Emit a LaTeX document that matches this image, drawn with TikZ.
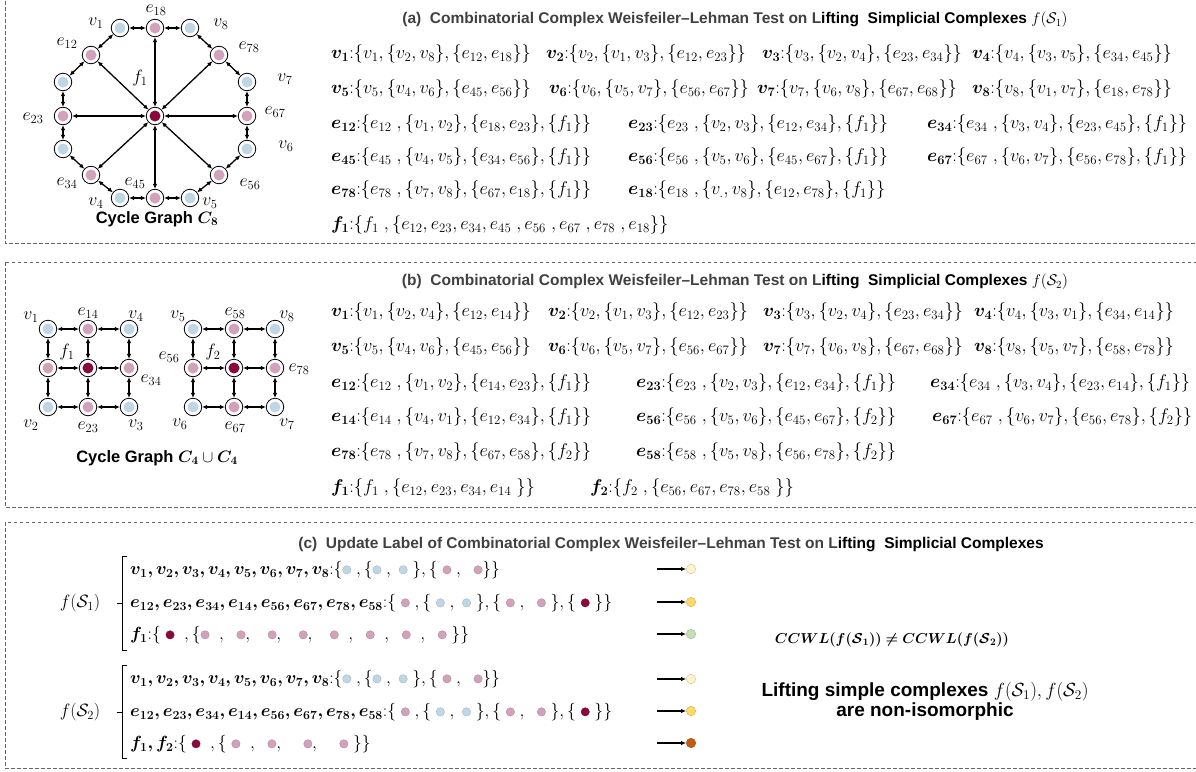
\RequirePackage{fix-cm}
\documentclass[tikz,border=0pt]{standalone}
\usepackage{amsmath,amssymb,bm}
\usepackage{fontspec}
\setsansfont{Liberation Sans}
\usetikzlibrary{arrows.meta,calc}
\definecolor{vblue}{HTML}{BFD7E4}
\definecolor{epink}{HTML}{D2A1BA}
\definecolor{fred}{HTML}{8A0A3C}
\definecolor{titlegray}{HTML}{404040}
\definecolor{lpale}{HTML}{FFF2CC}
\definecolor{lgold}{HTML}{FFD966}
\definecolor{lgreen}{HTML}{C5E0B4}
\definecolor{lorange}{HTML}{C55A11}

% small coloured label dot used inside the update rows
\newcommand{\dotc}[1]{\tikz[baseline=-0.6ex]\filldraw[fill=#1,draw=#1!80!black,line width=0.3pt] (0,0) circle (4.2pt);}
% bold entry name followed by a tight colon
\newcommand{\ent}[1]{\bm{#1}{:}}

\tikzset{
  cell/.style={circle, draw=black, line width=0.8pt, fill=white, minimum size=17.5pt, inner sep=0pt,
    path picture={\fill[#1] (path picture bounding box.center) circle (5.5pt);}},
  link/.style={{Latex[length=5pt,width=4.5pt]}-{Latex[length=5pt,width=4.5pt]}, line width=1.3pt},
  lbl/.style={font=\fontsize{17.8}{18}\selectfont, inner sep=0pt},
  panel/.style={draw=black!60, dash pattern=on 3.5pt off 2.5pt, line width=0.8pt},
  ttl/.style={font=\fontsize{15.5}{16}\selectfont\sffamily\bfseries, text=titlegray, inner sep=0pt},
  captxt/.style={font=\fontsize{16.5}{17}\selectfont\sffamily\bfseries, inner sep=0pt},
  row/.style={anchor=west, font=\fontsize{18.4}{19}\selectfont, inner sep=0pt},
  urow/.style={row, font=\fontsize{17.6}{18}\selectfont},
  outdot/.style={circle, minimum size=9.5pt, inner sep=0pt, draw=#1!80!black, line width=0.4pt, fill=#1},
  upd/.style={-{Latex[length=5pt,width=4.5pt]}, line width=1.3pt},
}

\begin{document}
\begin{tikzpicture}[x=1pt, y=-1pt]
  \useasboundingbox (0,0) rectangle (1196,771);
  % dashed panels
  \draw[panel] (5,-5) rectangle (1205,243);
  \draw[panel] (5,262) rectangle (1205,507);
  \draw[panel] (5,522) rectangle (1205,768);

  % ---------- (a) cycle graph C8 ----------
  \foreach \n/\x/\y/\c in {v1/120/28/vblue, e18/155/28/epink, v8/190/28/vblue,
      e12/91/55/epink, e78/219/55/epink, v2/63/82/vblue, v7/247/82/vblue,
      e23/63/116/epink, e67/247/116/epink, v3/63/149/vblue, v6/247/149/vblue,
      e34/91/175/epink, e56/219/175/epink, v4/120/198/vblue, e45/155/198/epink,
      v5/190/198/vblue, f1/155/116/fred}
    \node[cell=\c] (a-\n) at (\x,\y) {};
  \foreach \p/\q in {v1/e18, e18/v8, v8/e78, e78/v7, v7/e67, e67/v6, v6/e56, e56/v5,
      v5/e45, e45/v4, v4/e34, e34/v3, v3/e23, e23/v2, v2/e12, e12/v1,
      f1/e12, f1/e18, f1/e78, f1/e23, f1/e67, f1/e34, f1/e45, f1/e56}
    \draw[link] (a-\p) -- (a-\q);
  \foreach \n/\x/\y/\txt in {v1/96/23/v_1, e18/156/10/e_{18}, v8/221/24/v_8,
      e12/67/43/e_{12}, e78/249/47/e_{78}, v7/285/79/v_7, e67/275/112/e_{67},
      v6/286/146/v_6, e56/250/184/e_{56}, v5/210/203/v_5, e45/135/183/e_{45},
      v4/96/203/v_4, e34/67/183/e_{34}, e23/33/118/e_{23}, f1/140/78/f_1}
    \node[lbl] (la-\n) at (\x,\y) {$\txt$};
  \node[captxt] (cap-a) at (157,219) {Cycle Graph $\bm{C_8}$};

  \node[ttl] (title-a) at (735,20) {(a)\ \ Combinatorial Complex Weisfeiler--Lehman Test on L\textcolor{black}{ifting\ \ Simplicial Complexes} \textcolor{black}{\mdseries$f(\mathcal{S}_1)$}};
  \node[row] (a-r1) at (331,54) {$\ent{v_1}\{v_1,\{v_2,v_8\},\{e_{12},e_{18}\}\}$};
  \node[row] (a-r2) at (546,54) {$\ent{v_2}\{v_2,\{v_1,v_3\},\{e_{12},e_{23}\}\}$};
  \node[row] (a-r3) at (762,54) {$\ent{v_3}\{v_3,\{v_2,v_4\},\{e_{23},e_{34}\}\}$};
  \node[row] (a-r4) at (972,54) {$\ent{v_4}\{v_4,\{v_3,v_5\},\{e_{34},e_{45}\}\}$};
  \node[row] (a-r5) at (331,89) {$\ent{v_5}\{v_5,\{v_4,v_6\},\{e_{45},e_{56}\}\}$};
  \node[row] (a-r6) at (549,89) {$\ent{v_6}\{v_6,\{v_5,v_7\},\{e_{56},e_{67}\}\}$};
  \node[row] (a-r7) at (757,89) {$\ent{v_7}\{v_7,\{v_6,v_8\},\{e_{67},e_{68}\}\}$};
  \node[row] (a-r8) at (972,89) {$\ent{v_8}\{v_8,\{v_1,v_7\},\{e_{18},e_{78}\}\}$};
  \node[row] (a-r9) at (331,124) {$\ent{e_{12}}\{e_{12}\;,\{v_1,v_2\},\{e_{18},e_{23}\},\{f_1\}\}$};
  \node[row] (a-r10) at (628,124) {$\ent{e_{23}}\{e_{23}\;,\{v_2,v_3\},\{e_{12},e_{34}\},\{f_1\}\}$};
  \node[row] (a-r11) at (927,124) {$\ent{e_{34}}\{e_{34}\;,\{v_3,v_4\},\{e_{23},e_{45}\},\{f_1\}\}$};
  \node[row] (a-r12) at (331,157) {$\ent{e_{45}}\{e_{45}\;,\{v_4,v_5\},\{e_{34},e_{56}\},\{f_1\}\}$};
  \node[row] (a-r13) at (628,157) {$\ent{e_{56}}\{e_{56}\;,\{v_5,v_6\},\{e_{45},e_{67}\},\{f_1\}\}$};
  \node[row] (a-r14) at (927,157) {$\ent{e_{67}}\{e_{67}\;,\{v_6,v_7\},\{e_{56},e_{78}\},\{f_1\}\}$};
  \node[row] (a-r15) at (331,190) {$\ent{e_{78}}\{e_{78}\;,\{v_7,v_8\},\{e_{67},e_{18}\},\{f_1\}\}$};
  \node[row] (a-r16) at (628,190) {$\ent{e_{18}}\{e_{18}\;,\{v_.,v_8\},\{e_{12},e_{78}\},\{f_1\}\}$};
  \node[row] (a-r17) at (331,225) {$\ent{f_1}\{f_1\;,\{e_{12},e_{23},e_{34},e_{45}\;,e_{56}\;,e_{67}\;,e_{78}\;,e_{18}\}\}$};

  % ---------- (b) two cycle graphs C4 ----------
  \foreach \n/\x/\y/\c in {v1/48/329/vblue, e14/88/329/epink, v4/129/329/vblue,
      e12/48/368/epink, f1/88/368/fred, e34/129/368/epink,
      v2/48/407/vblue, e23/88/407/epink, v3/129/407/vblue,
      v5/193/329/vblue, e58/234/329/epink, v8/275/329/vblue,
      e56/193/368/epink, f2/234/368/fred, e78/275/368/epink,
      v6/193/407/vblue, e67/234/407/epink, v7/275/407/vblue}
    \node[cell=\c] (b-\n) at (\x,\y) {};
  \foreach \p/\q in {v1/e14, e14/v4, e12/f1, f1/e34, v2/e23, e23/v3,
      v1/e12, e12/v2, e14/f1, f1/e23, v4/e34, e34/v3,
      v5/e58, e58/v8, e56/f2, f2/e78, v6/e67, e67/v7,
      v5/e56, e56/v6, e58/f2, f2/e67, v8/e78, e78/v7}
    \draw[link] (b-\p) -- (b-\q);
  \foreach \n/\x/\y/\txt in {v1/31/317/v_1, e14/88/313/e_{14}, v4/136/316/v_4,
      f1/67/352/f_1, e34/151/380/e_{34}, v2/31/425/v_2, e23/88/427/e_{23}, v3/136/425/v_3,
      v5/178/316/v_5, e58/235/313/e_{58}, v8/287/316/v_8, e56/169/357/e_{56},
      f2/213/352/f_2, e78/299/369/e_{78}, v6/180/424/v_6, e67/235/427/e_{67}, v7/287/424/v_7}
    \node[lbl] (lb-\n) at (\x,\y) {$\txt$};
  \node[captxt] (cap-b) at (157,458) {Cycle Graph $\bm{C_4}\cup\bm{C_4}$};

  \node[ttl] (title-b) at (735,282) {(b)\ \ Combinatorial Complex Weisfeiler--Lehman Test on L\textcolor{black}{ifting\ \ Simplicial Complexes} \textcolor{black}{\mdseries$f(\mathcal{S}_2)$}};
  \node[row] (b-r1) at (331,312) {$\ent{v_1}\{v_1,\{v_2,v_4\},\{e_{12},e_{14}\}\}$};
  \node[row] (b-r2) at (548,312) {$\ent{v_2}\{v_2,\{v_1,v_3\},\{e_{12},e_{23}\}\}$};
  \node[row] (b-r3) at (763,312) {$\ent{v_3}\{v_3,\{v_2,v_4\},\{e_{23},e_{34}\}\}$};
  \node[row] (b-r4) at (974,312) {$\ent{v_4}\{v_4,\{v_3,v_1\},\{e_{34},e_{14}\}\}$};
  \node[row] (b-r5) at (331,347) {$\ent{v_5}\{v_5,\{v_4,v_6\},\{e_{45},e_{56}\}\}$};
  \node[row] (b-r6) at (548,347) {$\ent{v_6}\{v_6,\{v_5,v_7\},\{e_{56},e_{67}\}\}$};
  \node[row] (b-r7) at (763,347) {$\ent{v_7}\{v_7,\{v_6,v_8\},\{e_{67},e_{68}\}\}$};
  \node[row] (b-r8) at (974,347) {$\ent{v_8}\{v_8,\{v_5,v_7\},\{e_{58},e_{78}\}\}$};
  \node[row] (b-r9) at (331,383) {$\ent{e_{12}}\{e_{12}\;,\{v_1,v_2\},\{e_{14},e_{23}\},\{f_1\}\}$};
  \node[row] (b-r10) at (636,383) {$\ent{e_{23}}\{e_{23}\;,\{v_2,v_3\},\{e_{12},e_{34}\},\{f_1\}\}$};
  \node[row] (b-r11) at (930,383) {$\ent{e_{34}}\{e_{34}\;,\{v_3,v_4\},\{e_{23},e_{14}\},\{f_1\}\}$};
  \node[row] (b-r12) at (331,417) {$\ent{e_{14}}\{e_{14}\;,\{v_4,v_1\},\{e_{12},e_{34}\},\{f_1\}\}$};
  \node[row] (b-r13) at (636,417) {$\ent{e_{56}}\{e_{56}\;,\{v_5,v_6\},\{e_{45},e_{67}\},\{f_2\}\}$};
  \node[row] (b-r14) at (932,417) {$\ent{e_{67}}\{e_{67}\;,\{v_6,v_7\},\{e_{56},e_{78}\},\{f_2\}\}$};
  \node[row] (b-r15) at (331,452) {$\ent{e_{78}}\{e_{78}\;,\{v_7,v_8\},\{e_{67},e_{58}\},\{f_2\}\}$};
  \node[row] (b-r16) at (636,452) {$\ent{e_{58}}\{e_{58}\;,\{v_5,v_8\},\{e_{56},e_{78}\},\{f_2\}\}$};
  \node[row] (b-r17) at (331,488) {$\ent{f_1}\{f_1\;,\{e_{12},e_{23},e_{34},e_{14}\;\}\}$};
  \node[row] (b-r18) at (590,488) {$\ent{f_2}\{f_2\;,\{e_{56},e_{67},e_{78},e_{58}\;\}\}$};

  % ---------- (c) label update ----------
  \node[ttl] (title-c) at (671,545) {(c)\ \ Update Label of Combinatorial Complex Weisfeiler--Lehman Test on L\textcolor{black}{ifting\ \ Simplicial Complexes}};
  \node[lbl] (fs1) at (80,603) {$f(\mathcal{S}_1)$};
  \node[lbl] (fs2) at (80,712) {$f(\mathcal{S}_2)$};
  \draw[line width=0.8pt] (127,556) -- (122,556) -- (122,650) -- (127,650) (122,603) -- (117,603);
  \draw[line width=0.8pt] (127,665) -- (122,665) -- (122,758) -- (127,758) (122,712) -- (117,712);
  \node[urow] (c-r1) at (130,570) {$\ent{v_1,v_2,v_3,v_4,v_5,v_6,v_7,v_8}\{\dotc{vblue}\;,\{\dotc{vblue}\;,\;\dotc{vblue}\;\},\{\;\dotc{epink}\;,\;\;\dotc{epink}\}\}$};
  \node[urow] (c-r2) at (130,603) {$\ent{e_{12},e_{23},e_{34},e_{14},e_{56},e_{67},e_{78},e_{58}}\{\;\dotc{epink}\;,\{\;\dotc{vblue}\;,\;\dotc{vblue}\;\},\{\;\dotc{epink}\;,\;\;\dotc{epink}\;\},\{\;\dotc{fred}\;\}\}$};
  \node[urow] (c-r3) at (130,635) {$\ent{f_1}\{\;\dotc{fred}\;\;,\{\dotc{epink}\;\;,\;\;\dotc{epink},\;\;\;\dotc{epink},\;\;\;\dotc{epink},\;\;\;\dotc{epink}\;\;,\;\;\dotc{epink}\;\;,\;\;\dotc{epink}\;\;,\;\;\dotc{epink}\;\}\}$};
  \node[urow] (c-r4) at (130,679) {$\ent{v_1,v_2,v_3,v_4,v_5,v_6,v_7,v_8}\{\dotc{vblue}\;,\{\dotc{vblue}\;,\;\dotc{vblue}\;\},\{\;\dotc{epink}\;,\;\;\dotc{epink}\}\}$};
  \node[urow] (c-r5) at (130,712) {$\ent{e_{12},e_{23},e_{34},e_{14},e_{56},e_{67},e_{78},e_{58}}\{\;\dotc{epink}\;,\{\;\dotc{vblue}\;,\;\dotc{vblue}\;\},\{\;\dotc{epink}\;,\;\;\dotc{epink}\;\},\{\;\dotc{fred}\;\}\}$};
  \node[urow] (c-r6) at (130,744) {$\ent{f_1,f_2}\{\;\dotc{fred}\;\;,\{\;\dotc{epink}\;\;,\;\;\dotc{epink},\;\;\;\;\dotc{epink},\;\;\;\;\dotc{epink}\;\}\}$};
  % resulting colours
  \foreach \i/\y/\c in {1/569/lpale, 2/602/lgold, 3/634/lgreen, 4/679/lpale, 5/711/lgold, 6/743/lorange} {
    \node[outdot=\c] (out\i) at (691,\y) {};
    \coordinate (src\i) at (657,\y);
    \draw[upd] (src\i) -- (out\i);
  }
  \node[font=\fontsize{14.4}{15}\selectfont, inner sep=0pt] (neq) at (892,640) {$\bm{CCWL(f(\mathcal{S}_1))\neq CCWL(f(\mathcal{S}_2))}$};
  \node[captxt, font=\fontsize{19}{19}\selectfont\sffamily\bfseries, align=center] (concl) at (925,701) {Lifting simple complexes \mdseries$f(\mathcal{S}_1),f(\mathcal{S}_2)$\\[1pt]are non-isomorphic};
\end{tikzpicture}
\end{document}
